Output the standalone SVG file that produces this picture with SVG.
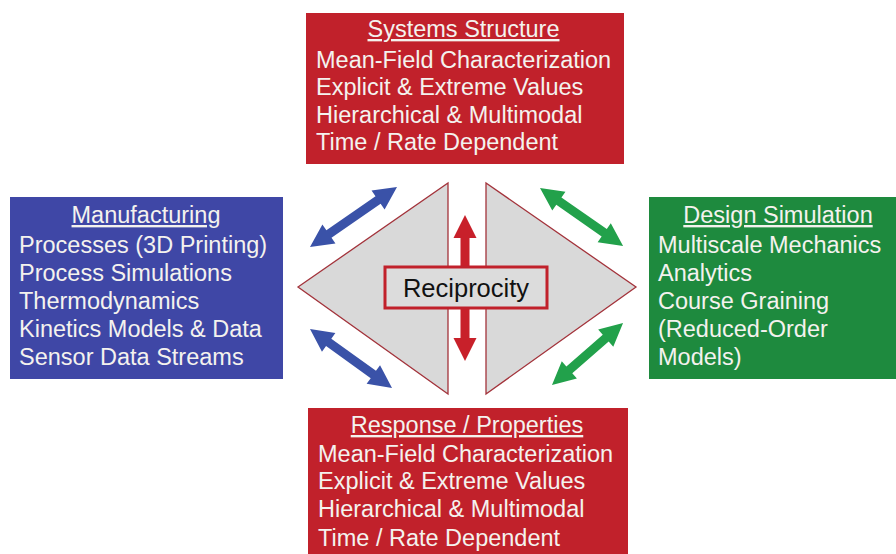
<svg xmlns="http://www.w3.org/2000/svg" width="896" height="554" viewBox="0 0 896 554">
<style>
.box text{font-family:"Liberation Sans",Arial,sans-serif;font-size:23.5px;fill:#f4f2ee}
.title{text-decoration:underline;text-anchor:middle}
.red{fill:#c1212b}
.blue{fill:#3f47a6}
.green{fill:#1e8a3e}
.tri{fill:#d9d9d9;stroke:#a3333b;stroke-width:1.3}
</style>
<rect width="896" height="554" fill="#ffffff"/>
<g id="systems-structure" class="box">
<rect class="red" x="306" y="13" width="318" height="151"/>
<text class="title" x="463.5" y="37">Systems Structure</text>
<text x="316" y="68">Mean-Field Characterization</text>
<text x="316" y="95">Explicit &amp; Extreme Values</text>
<text x="316" y="123">Hierarchical &amp; Multimodal</text>
<text x="316" y="150">Time / Rate Dependent</text>
</g>
<g id="manufacturing" class="box">
<rect class="blue" x="10" y="197" width="273" height="182"/>
<text class="title" x="146" y="223">Manufacturing</text>
<text x="19" y="253">Processes (3D Printing)</text>
<text x="19" y="281">Process Simulations</text>
<text x="19" y="309">Thermodynamics</text>
<text x="19" y="337">Kinetics Models &amp; Data</text>
<text x="19" y="365">Sensor Data Streams</text>
</g>
<g id="design-simulation" class="box">
<rect class="green" x="649" y="197" width="250" height="182"/>
<text class="title" x="778" y="223">Design Simulation</text>
<text x="658" y="253">Multiscale Mechanics</text>
<text x="658" y="281">Analytics</text>
<text x="658" y="309">Course Graining</text>
<text x="658" y="337">(Reduced-Order</text>
<text x="658" y="365">Models)</text>
</g>
<g id="response-properties" class="box">
<rect class="red" x="308" y="408" width="320" height="150"/>
<text class="title" x="467" y="433">Response / Properties</text>
<text x="318" y="462">Mean-Field Characterization</text>
<text x="318" y="489">Explicit &amp; Extreme Values</text>
<text x="318" y="517">Hierarchical &amp; Multimodal</text>
<text x="318" y="546">Time / Rate Dependent</text>
</g>
<g id="center">
<polygon class="tri" points="298,287 448,183 448,394"/>
<polygon class="tri" points="486,183 486,394 636,287"/>
</g>
<g id="connectors">
<g transform="translate(465,215) rotate(90)" fill="#c8202a">
<polygon points="0,0 23,-11.5 23,-4.5 123,-4.5 123,-11.5 146,0 123,11.5 123,4.5 23,4.5 23,11.5"/>
</g>
<g transform="translate(310,247) rotate(-34.6)" fill="#3a52a8">
<polygon points="0,0 23,-11.5 23,-4.5 82.7,-4.5 82.7,-11.5 105.7,0 82.7,11.5 82.7,4.5 23,4.5 23,11.5"/>
</g>
<g transform="translate(310,329) rotate(35.7)" fill="#3a52a8">
<polygon points="0,0 23,-11.5 23,-4.5 78,-4.5 78,-11.5 101,0 78,11.5 78,4.5 23,4.5 23,11.5"/>
</g>
<g transform="translate(540,188) rotate(34.9)" fill="#22a14b">
<polygon points="0,0 23,-11.5 23,-4.5 78.3,-4.5 78.3,-11.5 101.3,0 78.3,11.5 78.3,4.5 23,4.5 23,11.5"/>
</g>
<g transform="translate(552,385) rotate(-41.1)" fill="#22a14b">
<polygon points="0,0 23,-11.5 23,-4.5 71.3,-4.5 71.3,-11.5 94.3,0 71.3,11.5 71.3,4.5 23,4.5 23,11.5"/>
</g>
</g>
<g id="reciprocity">
<rect x="385" y="267" width="162" height="41" fill="#dcdcdc" stroke="#c1212b" stroke-width="3"/>
<text x="466" y="297" text-anchor="middle" font-family="Liberation Sans,Arial,sans-serif" font-size="25.5" fill="#111111">Reciprocity</text>
</g>
</svg>
